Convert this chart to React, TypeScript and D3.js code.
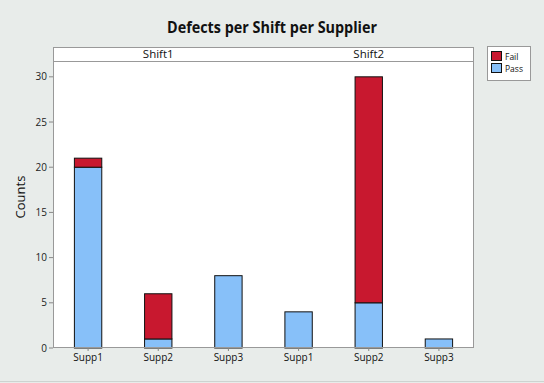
import React from "react";
import * as d3 from "d3";

const shifts = ["Shift1", "Shift2"];
const suppliers = ["Supp1", "Supp2", "Supp3"];
// values per shift, per supplier
const passValues = [[20, 1, 8], [4, 5, 1]];
const failValues = [[1, 5, 0], [0, 25, 0]];
const seriesNames = ["Fail", "Pass"];
const yTicks = [0, 5, 10, 15, 20, 25, 30];

const W = 544;
const H = 383;
const FONT = "'Open Sans', 'Noto Sans', sans-serif";
const COLORS: Record<string, string> = { Fail: "#c8182f", Pass: "#87c0f9" };

export default function App() {
  const left = 53, right = 474, top = 47, stripH = 14, bottom = 348;
  const rows = shifts.flatMap((s, si) =>
    suppliers.map((p, pi) => ({
      key: `${s}-${p}`,
      shift: s,
      supp: p,
      Pass: passValues[si][pi],
      Fail: failValues[si][pi],
    }))
  );
  const x = d3.scaleBand<string>().domain(rows.map((r) => r.key)).range([left, right]).padding(0);
  const y = d3.scaleLinear().domain([0, 31.75]).range([bottom, top + stripH]);
  const stack = d3.stack<any>().keys(["Pass", "Fail"])(rows as any);
  const bw = x.bandwidth() * 0.39;
  const shiftX = d3.scaleBand<string>().domain(shifts).range([left, right]);

  return (
    <svg width={W} height={H} style={{ position: "absolute", left: 0, top: 0 }} fontFamily={FONT}>
      <rect x={0} y={0} width={W} height={H} fill="#e8ecea" />
      <line x1={0} x2={W} y1={381.5} y2={381.5} stroke="#cdd3d0" />
      <text x={272} y={33} textAnchor="middle" fontSize={16} fontWeight={700} fill="#111"
        textLength={210} lengthAdjust="spacingAndGlyphs">
        Defects per Shift per Supplier
      </text>
      {/* plot area */}
      <rect x={left} y={top} width={right - left} height={bottom - top} fill="#fff" />
      {/* strip */}
      <line x1={left} x2={right} y1={top + stripH + 0.5} y2={top + stripH + 0.5} stroke="#999" />
      {shifts.map((s) => (
        <text key={s} x={(shiftX(s) as number) + shiftX.bandwidth() / 2} y={top + 11} textAnchor="middle"
          fontSize={11.5} fill="#111">
          {s}
        </text>
      ))}
      {/* bars */}
      {stack.map((layer) =>
        layer.map((d: any, i: number) => {
          const r = rows[i];
          const h = y(d[0]) - y(d[1]);
          if (h <= 0) return null;
          return (
            <rect key={layer.key + r.key}
              x={(x(r.key) as number) + x.bandwidth() / 2 - bw / 2}
              y={y(d[1])} width={bw} height={h}
              fill={COLORS[layer.key as string]} stroke="#111" strokeWidth={1} />
          );
        })
      )}
      <rect x={left + 0.5} y={top + 0.5} width={right - left - 1} height={bottom - top - 1} fill="none" stroke="#999" />
      {/* y axis */}
      {yTicks.map((t) => (
        <g key={t}>
          <line x1={left - 4} x2={left} y1={y(t)} y2={y(t)} stroke="#888" />
          <text x={left - 6} y={y(t) + 3.5} textAnchor="end" fontSize={10} fill="#222">{t}</text>
        </g>
      ))}
      <text transform={`translate(25,${197}) rotate(-90)`} textAnchor="middle" fontSize={13} fill="#111">Counts</text>
      {/* x axis */}
      {rows.map((r) => {
        const cx = (x(r.key) as number) + x.bandwidth() / 2;
        return (
          <g key={r.key}>
            <line x1={cx} x2={cx} y1={bottom} y2={bottom + 3} stroke="#888" />
            <text x={cx} y={bottom + 13} textAnchor="middle" fontSize={10} fill="#111">{r.supp}</text>
          </g>
        );
      })}
      {/* legend */}
      <rect x={487.5} y={46.5} width={43} height={34} fill="#fff" stroke="#999" />
      {seriesNames.map((n, i) => (
        <g key={n}>
          <rect x={491.5} y={51.5 + i * 12} width={10} height={9} fill={COLORS[n]} stroke="#111" />
          <text x={505} y={59.5 + i * 12} fontSize={8.5} fill="#111">{n}</text>
        </g>
      ))}
    </svg>
  );
}
